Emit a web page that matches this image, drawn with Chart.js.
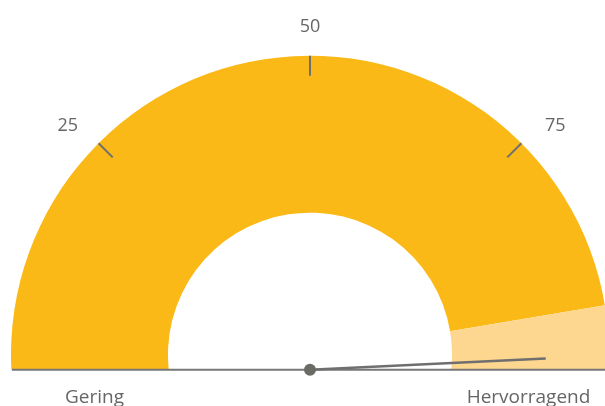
<!DOCTYPE html>
<html>
<head>
<meta charset="utf-8">
<script src="https://cdn.jsdelivr.net/npm/chart.js@4/dist/chart.umd.min.js"></script>
<style>
    body { margin: 0; background: #fff; }
    #wrap { width: 605px; height: 406px; }
</style>
</head>
<body>
<div id="wrap"><canvas id="gauge"></canvas></div>
<script>
// gauge bands on a 0..100 scale
let bandLabels = ["Gering", "Hervorragend"]
let bandValues = [94.7, 5.3]
let bandColors = ["#fbb917", "#fdd68f"]
let tickValues = [25, 50, 75]
let tickLabels = ["25", "50", "75"]
let needleValue = 98.5

// the arc runs a few degrees past the horizontal and is cut by the base line
let overhang = 8
let overhangValue = overhang / 180 * 100

let textColor = "#666666"
let lineColor = "#6f6f6f"
let fontFamily = "'Open Sans', sans-serif"

let arcData = bandValues.slice()
arcData[0] += overhangValue
arcData[arcData.length - 1] += overhangValue

function valueAngle(v) {
    return Math.PI + (v / 100) * Math.PI
}

const gaugeOverlay = {
    id: "gaugeOverlay",
    afterDatasetsDraw(chart) {
        const ctx = chart.ctx
        const arc = chart.getDatasetMeta(0).data[0]
        const cx = arc.x
        const cy = arc.y
        const R = arc.outerRadius
        const r = arc.innerRadius
        const baseY = cy + 15

        ctx.save()
        ctx.lineCap = "butt"

        // ticks and their labels
        ctx.strokeStyle = lineColor
        ctx.lineWidth = 2
        ctx.fillStyle = textColor
        ctx.font = "18px " + fontFamily
        ctx.textBaseline = "middle"
        tickValues.forEach(function (v, i) {
            const a = valueAngle(v)
            ctx.beginPath()
            ctx.moveTo(cx + Math.cos(a) * R, cy + Math.sin(a) * R)
            ctx.lineTo(cx + Math.cos(a) * (R - 20), cy + Math.sin(a) * (R - 20))
            ctx.stroke()

            let lx = cx + Math.cos(a) * (R + 29)
            let ly = cy + Math.sin(a) * (R + 29)
            if (v < 50) {
                ctx.textAlign = "right"
                ly += 3
            } else if (v > 50) {
                ctx.textAlign = "left"
                lx += 3
                ly += 3
            } else {
                ctx.textAlign = "center"
            }
            ctx.fillText(tickLabels[i], lx, ly)
        })

        // base line
        ctx.strokeStyle = "#777777"
        ctx.lineWidth = 2
        ctx.beginPath()
        ctx.moveTo(cx - R + 1, baseY)
        ctx.lineTo(chart.width, baseY)
        ctx.stroke()

        // needle
        const na = valueAngle(needleValue)
        ctx.strokeStyle = lineColor
        ctx.lineWidth = 2.5
        ctx.beginPath()
        ctx.moveTo(cx, baseY)
        ctx.lineTo(cx + Math.cos(na) * 236, baseY + Math.sin(na) * 236)
        ctx.stroke()

        ctx.fillStyle = "#6b6b66"
        ctx.beginPath()
        ctx.arc(cx, baseY, 6, 0, Math.PI * 2)
        ctx.fill()

        // band names under the base line
        ctx.fillStyle = textColor
        ctx.font = "19px " + fontFamily
        ctx.textAlign = "center"
        ctx.textBaseline = "top"
        const mid = (R + r) / 2
        ctx.fillText(bandLabels[0], cx - mid + 5, baseY + 18)
        ctx.fillText(bandLabels[1], cx + mid - 2, baseY + 18)

        ctx.restore()
    },
}

const chartID = document.getElementById("gauge").getContext("2d")
let gauge = new Chart(chartID, {
    type: "doughnut",
    data: {
        labels: bandLabels,
        datasets: [
            {
                data: arcData,
                backgroundColor: bandColors,
                borderWidth: 0,
                clip: { left: false, top: false, right: false, bottom: 0 },
            },
        ],
    },
    options: {
        responsive: true,
        maintainAspectRatio: false,
        animation: false,
        rotation: -90 - overhang,
        circumference: 180 + overhang * 2,
        radius: 299,
        cutout: "47.5%",
        layout: {
            padding: { left: 15, right: 0, top: 82, bottom: 36 },
        },
        plugins: {
            legend: { display: false },
            tooltip: { enabled: false },
        },
    },
    plugins: [gaugeOverlay],
})
</script>
</body>
</html>
